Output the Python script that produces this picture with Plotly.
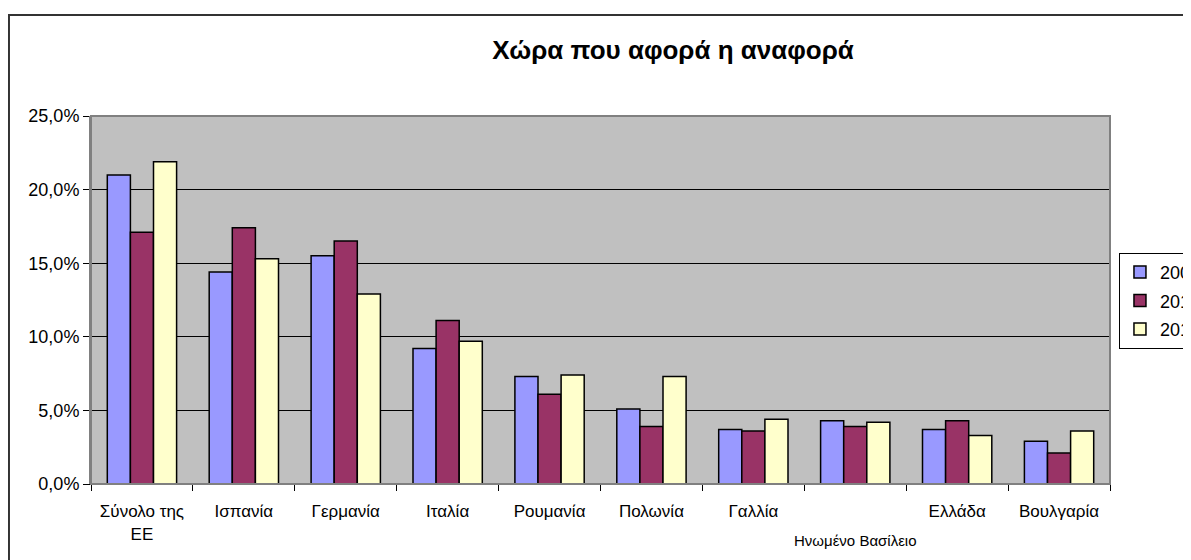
import plotly.graph_objects as go

# Données (en %)
pays = ["Σύνολο της ΕΕ", "Ισπανία", "Γερμανία", "Ιταλία", "Ρουμανία",
        "Πολωνία", "Γαλλία", "Ηνωμένο Βασίλειο", "Ελλάδα", "Βουλγαρία"]
etiquettes = ["Σύνολο της<br>ΕΕ", "Ισπανία", "Γερμανία", "Ιταλία", "Ρουμανία",
              "Πολωνία", "Γαλλία",
              "<br><sub><sub><span style='font-size:15px'>Ηνωμένο Βασίλειο</span></sub></sub>",
              "Ελλάδα", "Βουλγαρία"]
v2009 = [21.0, 14.4, 15.5, 9.2, 7.3, 5.1, 3.7, 4.3, 3.7, 2.9]
v2010 = [17.1, 17.4, 16.5, 11.1, 6.1, 3.9, 3.6, 3.9, 4.3, 2.1]
v2011 = [21.9, 15.3, 12.9, 9.7, 7.4, 7.3, 4.4, 4.2, 3.3, 3.6]

series = [("2009", v2009, "#9999FF"), ("2010", v2010, "#993366"), ("2011", v2011, "#FFFFCC")]

fig = go.Figure()
for nom, vals, couleur in series:
    fig.add_trace(go.Bar(
        x=pays, y=vals, name=nom, legendgroup=nom,
        marker=dict(color=couleur, line=dict(color="black", width=1.5)),
    ))

# la page ajoute une marge de 8 px autour de la figure
fig.update_layout(
    width=1183, height=552,
    paper_bgcolor="white",
    plot_bgcolor="#C0C0C0",
    font=dict(family="Liberation Sans, Arial", size=17, color="black"),
    separators=", ",
    barmode="group",
    bargap=0.32,
    bargroupgap=0,
    margin=dict(l=83, r=81, t=108, b=76, autoexpand=False),
    title=dict(text="<b>Χώρα που αφορά η αναφορά</b>", x=665 / 1183, xanchor="center",
               y=1 - 42 / 552, yanchor="middle", font=dict(size=26)),
    legend=dict(x=1.0088, xanchor="left", y=0.628, yanchor="top",
                bgcolor="white", bordercolor="black", borderwidth=1,
                traceorder="grouped", tracegroupgap=2, font=dict(size=18)),
    showlegend=True,
    shapes=[
        # cadre du graphique
        dict(type="rect", xref="paper", yref="paper", x0=-0.0805, x1=1.3, y0=-0.4, y1=1.2745,
             line=dict(color="#333333", width=2)),
        # cadre de la zone de tracé
        dict(type="rect", xref="paper", yref="paper", x0=0, x1=1, y0=0, y1=1,
             line=dict(color="#808080", width=2)),
    ],
)

fig.update_xaxes(
    tickvals=pays, ticktext=etiquettes,
    showline=True, linecolor="black", linewidth=1,
    ticks="outside", tickson="boundaries", ticklen=6, tickcolor="black",
    ticklabelstandoff=12,
    showgrid=False, tickangle=0,
)
fig.update_yaxes(
    range=[0, 25], dtick=5, tickformat=".1f", ticksuffix="%",
    tickfont=dict(size=18),
    showgrid=True, gridcolor="black", gridwidth=1,
    ticks="outside", ticklen=6, tickcolor="black",
    showline=True, linecolor="#808080", linewidth=2,
    zeroline=False,
)

fig.write_html("out.html")
